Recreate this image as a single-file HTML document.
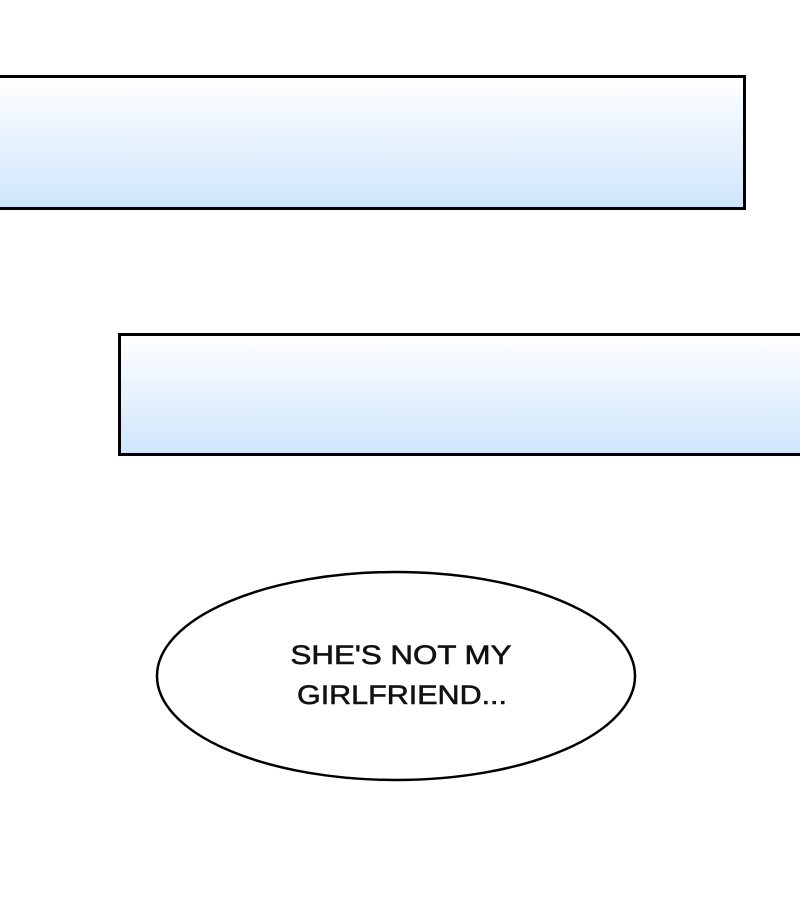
<!DOCTYPE html>
<html><head><style>
body{margin:0;width:800px;height:919px;background:#fff;position:relative;overflow:hidden}
.b{position:absolute;border:3px solid #000;box-sizing:border-box;background:linear-gradient(to bottom,#ffffff 0%,#cfe5fb 100%)}
</style></head><body>
<div class="b" style="left:-5px;top:75px;width:751px;height:135px"></div>
<div class="b" style="left:118px;top:333px;width:690px;height:123px"></div>
<svg style="position:absolute;left:0;top:0" width="800" height="919">
<ellipse cx="396" cy="676" rx="239" ry="104" fill="#fff" stroke="#000" stroke-width="2.5"/>
<text x="401" y="664" text-anchor="middle" font-family="Liberation Sans, sans-serif" font-size="27" fill="#111" stroke="#111" stroke-width="0.6" textLength="221" lengthAdjust="spacingAndGlyphs">SHE'S NOT MY</text>
<text x="402" y="704" text-anchor="middle" font-family="Liberation Sans, sans-serif" font-size="27" fill="#111" stroke="#111" stroke-width="0.6" textLength="210" lengthAdjust="spacingAndGlyphs">GIRLFRIEND...</text>
</svg>
</body></html>
